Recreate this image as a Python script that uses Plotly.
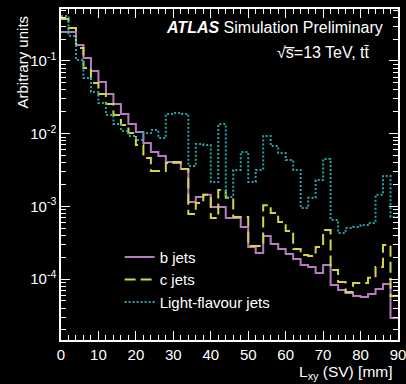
import plotly.graph_objects as go

# Bin edges for L_xy(SV) [mm], 2 mm bins from 0 to 90
bin_edges = list(range(0, 92, 2))

b_jets = [0.251, 0.251, 0.166, 0.110, 0.0728, 0.0514, 0.0352, 0.0256, 0.0187, 0.0136,
          0.01055, 0.00745, 0.00560, 0.00493, 0.00408, 0.00395, 0.00327, 0.00115, 0.00135, 0.00144,
          0.000982, 0.000982, 0.000692, 0.000692, 0.000521, 0.000277, 0.000229, 0.000392, 0.000304, 0.000259,
          0.000221, 0.000189, 0.000156, 0.000147, 0.000121, 0.000156, 0.0000830, 0.0000708, 0.0000644, 0.0000586,
          0.0000567, 0.0000624, 0.0000731, 0.0000857, 0.0000292]

c_jets = [0.378, 0.284, 0.151, 0.0801, 0.0498, 0.0352, 0.0256, 0.0181, 0.0132, 0.0102,
          0.00700, 0.00464, 0.00307, 0.00307, 0.00395, 0.00408, 0.00327, 0.000785, 0.00111, 0.00144,
          0.000692, 0.00168, 0.00131, 0.000714, 0.000714, 0.000285, 0.000285, 0.00104, 0.000811, 0.000610,
          0.000459, 0.000259, 0.000215, 0.000208, 0.000277, 0.000473, 0.000133, 0.0000912, 0.0000665, 0.0000883,
          0.0000883, 0.000104, 0.000147, 0.000294, 0.0000586]

light_jets = [0.416, 0.221, 0.103, 0.0583, 0.0375, 0.0264, 0.0181, 0.0136, 0.0109, 0.00929,
              0.00818, 0.0102, 0.0112, 0.00873, 0.0187, 0.0193, 0.0187, 0.00360, 0.00721, 0.00700,
              0.00217, 0.0136, 0.00135, 0.00317, 0.00560, 0.00217, 0.00317, 0.00929, 0.00678, 0.00543,
              0.00435, 0.00317, 0.000951, 0.00131, 0.00231, 0.00449, 0.000650, 0.000431, 0.000505, 0.000521,
              0.000555, 0.000591, 0.00144, 0.00262, 0.000714]

series_names = ["b jets", "c jets", "Light-flavour jets"]
x_tick_vals = [0, 10, 20, 30, 40, 50, 60, 70, 80, 90]
y_tick_vals = [1e-4, 1e-3, 1e-2, 1e-1]
y_tick_text = ["10<sup>-4</sup>", "10<sup>-3</sup>", "10<sup>-2</sup>", "10<sup>-1</sup>"]

FONT = "Liberation Sans, Arial, Helvetica, sans-serif"

styles = [
    dict(color="#b57cbf", width=2, dash="solid"),
    dict(color="#d4d448", width=2, dash="11px,5px"),
    dict(color="#22a6a8", width=2, dash="2px,2px"),
]

fig = go.Figure()
for name, vals, st in zip(series_names, [b_jets, c_jets, light_jets], styles):
    fig.add_trace(go.Scatter(
        x=bin_edges, y=vals + [vals[-1]], mode="lines", name=name,
        line=dict(shape="hv", **st),
    ))

minor_y = [k * 10.0 ** e for e in range(-5, 0) for k in range(2, 10)]

fig.update_layout(
    width=406, height=384,
    margin=dict(l=61, r=8, t=9, b=44, autoexpand=False),
    paper_bgcolor="black", plot_bgcolor="black",
    font=dict(family=FONT, color="white", size=15),
    showlegend=True,
    legend=dict(x=0.174, y=0.30, xanchor="left", yanchor="top",
                bgcolor="rgba(0,0,0,0)", font=dict(size=15, color="white"),
                tracegroupgap=0, itemwidth=30),
    xaxis=dict(range=[0, 90], tickvals=x_tick_vals, ticks="inside", ticklen=9,
               tickcolor="white", tickwidth=1, showline=True, linecolor="white",
               linewidth=1.5, mirror="allticks", showgrid=False, zeroline=False,
               automargin=False, ticklabeloverflow="allow",
               tickfont=dict(size=15, color="white"),
               minor=dict(dtick=2, ticks="inside", ticklen=5, tickcolor="white", showgrid=False)),
    yaxis=dict(type="log", range=[-4.838, -0.285], tickmode="array",
               tickvals=y_tick_vals, ticktext=y_tick_text, ticks="inside", ticklen=9,
               tickcolor="white", tickwidth=1, showline=True, linecolor="white",
               linewidth=1.5, mirror="allticks", showgrid=False, zeroline=False,
               automargin=False, ticklabeloverflow="allow",
               tickfont=dict(size=15, color="white"),
               minor=dict(tickmode="array", tickvals=minor_y, ticks="inside", ticklen=5,
                          tickcolor="white", showgrid=False)),
)

fig.add_annotation(text="Arbitrary units", xref="paper", yref="paper",
                   x=-0.1157, y=0.985, xanchor="center", yanchor="top", textangle=-90,
                   showarrow=False, font=dict(size=15, color="white"))
fig.add_annotation(text="L<sub>xy</sub> (SV) [mm]", xref="paper", yref="paper",
                   x=0.991, y=-0.097, xanchor="right", yanchor="middle",
                   showarrow=False, font=dict(size=15.5, color="white"))
fig.add_annotation(text="<b><i>ATLAS</i></b> Simulation Preliminary", xref="paper", yref="paper",
                   x=0.961, y=0.9426, xanchor="right", yanchor="middle",
                   showarrow=False, font=dict(size=16, color="white"))
fig.add_annotation(text="\u221As\u0305=13 TeV, tt\u0304", xref="paper", yref="paper",
                   x=0.923, y=0.870, xanchor="right", yanchor="middle",
                   showarrow=False, font=dict(size=16, color="white"))

fig.write_html("out.html")
